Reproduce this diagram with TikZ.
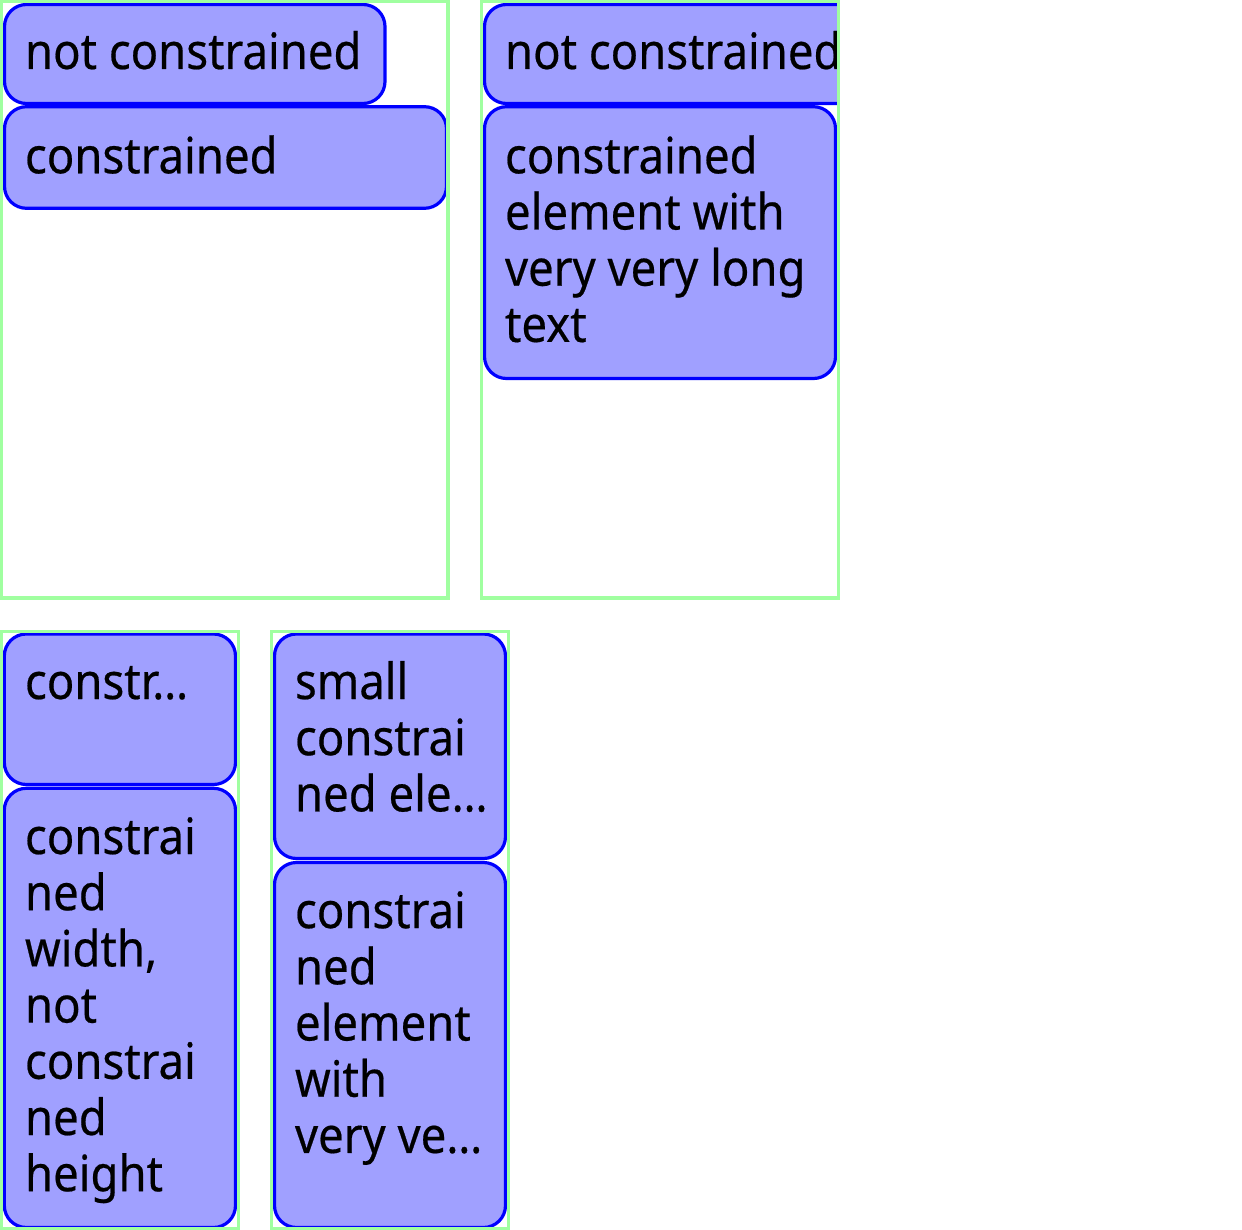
\documentclass[tikz,border=0pt]{standalone}
\usepackage{fontspec}
\setmainfont[FakeStretch=0.91,FakeBold=0.4]{Noto Sans}
\definecolor{frameg}{RGB}{160,255,160}
\definecolor{boxfill}{RGB}{160,160,255}
\definecolor{boxline}{RGB}{0,0,255}
\newcommand\uibox[5]{\node[elem,anchor=north west,minimum width={(#4-#2)*0.5pt},minimum height={(#5-#3)*0.5pt}] (#1) at (#2,#3) {};}
\newcommand\uiframe[5]{\node[frame,anchor=north west,minimum width={(#4-#2)*0.5pt},minimum height={(#5-#3)*0.5pt}] (#1) at (#2,#3) {};}
\newcommand\rowtxt[1]{\hbox{#1}}
\begin{document}
\begin{tikzpicture}[x=0.5pt,y=-0.5pt,
  frame/.style={draw=frameg,line width=1.6pt,inner sep=0pt,outer sep=0pt},
  elem/.style={draw=boxline,fill=boxfill,line width=1.6pt,rounded corners=11pt,inner sep=0pt,outer sep=0pt},
  lbl/.style={anchor=base west,inner sep=0pt,outer sep=0pt,font=\fontsize{25pt}{28.1pt}\selectfont}]
\useasboundingbox[fill=white] (0,0) rectangle (1242,1230);
% container 1
\begin{scope}
  \clip (3,3) rectangle (446.5,596.5);
  \uibox{a}{4.5}{4.5}{385}{103.5}
  \uibox{b}{4.5}{106.7}{446.5}{208.3}
  \node[lbl] (ta) at (25,69) {\vtop{\rowtxt{not constrained}}};
  \node[lbl] (tb) at (25,173.3) {\vtop{\rowtxt{constrained}}};
\end{scope}
\uiframe{c1}{1.5}{1.5}{448}{598}
% container 2
\begin{scope}
  \clip (483,3) rectangle (837,596.5);
  \uibox{c}{484.5}{4.5}{900}{103.5}
  \uibox{d}{484.5}{106.7}{835.5}{378.5}
  \node[lbl] (tc) at (505,69) {\vtop{\rowtxt{not constrained}}};
  \node[lbl] (td) at (505,173.3) {\vtop{\rowtxt{constrained}\rowtxt{element with}\rowtxt{very very long}\rowtxt{text}}};
\end{scope}
\uiframe{c2}{481.5}{1.5}{838.5}{598}
% container 3
\begin{scope}
  \clip (3,633.2) rectangle (236.8,1226.8);
  \uibox{e}{4.3}{634}{235.5}{784.5}
  \uibox{f}{4.3}{788.3}{235.5}{1227.5}
  \node[lbl] (te) at (25,699) {\vtop{\rowtxt{constr…}}};
  \node[lbl] (tf) at (25,854) {\vtop{\rowtxt{constrai}\rowtxt{ned}\rowtxt{width,}\rowtxt{not}\rowtxt{constrai}\rowtxt{ned}\rowtxt{height}}};
\end{scope}
\uiframe{c3}{1.5}{631.7}{238.3}{1228.3}
% container 4
\begin{scope}
  \clip (273.2,633.2) rectangle (506.8,1226.8);
  \uibox{g}{274.5}{634}{505.5}{858.5}
  \uibox{h}{274.5}{862.5}{505.5}{1227.5}
  \node[lbl] (tg) at (295,699) {\vtop{\rowtxt{small}\rowtxt{constrai}\rowtxt{ned ele…}}};
  \node[lbl] (th) at (295,928.1) {\vtop{\rowtxt{constrai}\rowtxt{ned}\rowtxt{element}\rowtxt{with}\rowtxt{very ve…}}};
\end{scope}
\uiframe{c4}{271.7}{631.7}{508.3}{1228.3}
\end{tikzpicture}
\end{document}
